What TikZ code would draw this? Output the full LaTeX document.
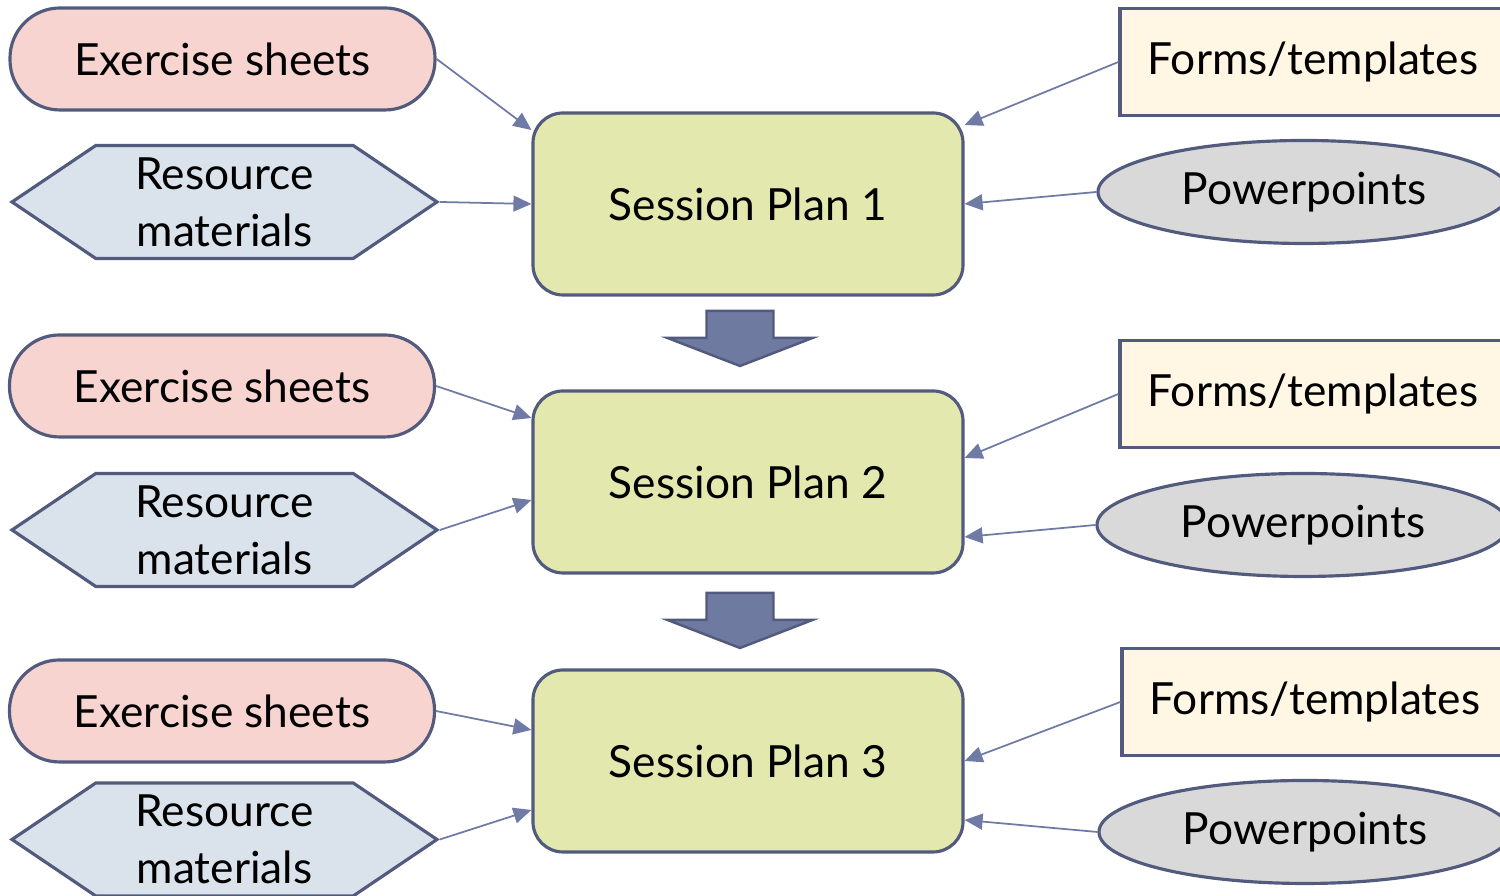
\documentclass[tikz,border=0pt]{standalone}
\usepackage{fontspec}
\setmainfont{Lato}
\usepackage{tikz}
\usetikzlibrary{shapes,arrows.meta}

\definecolor{lineblue}{RGB}{82,91,125}
\definecolor{linkblue}{RGB}{111,123,165}
\definecolor{pinkfill}{RGB}{248,212,209}
\definecolor{hexfill}{RGB}{218,227,235}
\definecolor{planfill}{RGB}{226,232,174}
\definecolor{creamfill}{RGB}{255,247,227}
\definecolor{grayfill}{RGB}{217,217,217}
\definecolor{bigarrow}{RGB}{110,122,160}

\begin{document}
\begin{tikzpicture}[
  every node/.style={font=\fontsize{12.6}{16.2}\selectfont, text=black},
  box/.style={draw=lineblue, line width=0.9pt, inner sep=0pt},
  exsheet/.style={box, rectangle, rounded corners=0.5cm, fill=pinkfill, minimum width=4.25cm, minimum height=1.02cm},
  resource/.style={box, signal, signal to=west and east, signal pointer angle=68, fill=hexfill, minimum width=4.25cm, minimum height=1.13cm, align=center},
  plan/.style={box, rectangle, rounded corners=0.3cm, fill=planfill, minimum width=4.3cm, minimum height=1.82cm},
  form/.style={box, rectangle, fill=creamfill, minimum width=3.86cm, minimum height=1.07cm},
  ppt/.style={box, ellipse, fill=grayfill, minimum width=4.12cm, minimum height=1.03cm},
  feed/.style={draw=linkblue, line width=0.5pt, -{Triangle[length=1.8mm,width=1.6mm]}},
  down/.style={draw=lineblue, line width=0.7pt, fill=bigarrow}
]
\useasboundingbox (0,0) rectangle (15,8.96);
\clip (0,0) rectangle (15,8.96);

% session 1
\node (ex1) [exsheet] at (2.225,8.37) {Exercise sheets};
\node (res1) [resource] at (2.245,6.94) {Resource\\materials};
\node (plan1) [plan] at (7.48,6.92) {Session Plan 1};
\node (form1) [form] at (13.13,8.34) {Forms/templates};
\node (pp1) [ppt] at (13.04,7.04) {Powerpoints};

% session 2
\node (ex2) [exsheet] at (2.22,5.10) {Exercise sheets};
\node (res2) [resource] at (2.245,3.66) {Resource\\materials};
\node (plan2) [plan] at (7.48,4.14) {Session Plan 2};
\node (form2) [form] at (13.13,5.02) {Forms/templates};
\node (pp2) [ppt] at (13.03,3.71) {Powerpoints};

% session 3
\node (ex3) [exsheet] at (2.22,1.85) {Exercise sheets};
\node (res3) [resource] at (2.245,0.565) {Resource\\materials};
\node (plan3) [plan] at (7.48,1.35) {Session Plan 3};
\node (form3) [form] at (13.15,1.94) {Forms/templates};
\node (pp3) [ppt] at (13.05,0.64) {Powerpoints};

\draw [feed] (ex1.east) -- ([yshift=0.74cm]plan1.west);
\draw [feed] (res1.east) -- (plan1.west);
\draw [feed] (form1.west) -- ([yshift=0.79cm]plan1.east);
\draw [feed] (pp1.west) -- (plan1.east);

\draw [feed] (ex2.east) -- ([yshift=0.64cm]plan2.west);
\draw [feed] (res2.east) -- ([yshift=-0.18cm]plan2.west);
\draw [feed] (form2.west) -- ([yshift=0.24cm]plan2.east);
\draw [feed] (pp2.west) -- ([yshift=-0.55cm]plan2.east);

\draw [feed] (ex3.east) -- ([yshift=0.31cm]plan3.west);
\draw [feed] (res3.east) -- ([yshift=-0.49cm]plan3.west);
\draw [feed] (form3.west) -- (plan3.east);
\draw [feed] (pp3.west) -- ([yshift=-0.59cm]plan3.east);

% block arrows between plans
\coordinate (step1) at (7.40,5.85);
\coordinate (step2) at (7.40,3.03);
\foreach \c in {step1,step2}
  \draw [down] (\c) ++(-0.335,0) -- ++(0.67,0) -- ++(0,-0.27) -- ++(0.39,0)
    -- ++(-0.725,-0.28) -- ++(-0.725,0.28) -- ++(0.39,0) -- cycle;
\end{tikzpicture}
\end{document}
